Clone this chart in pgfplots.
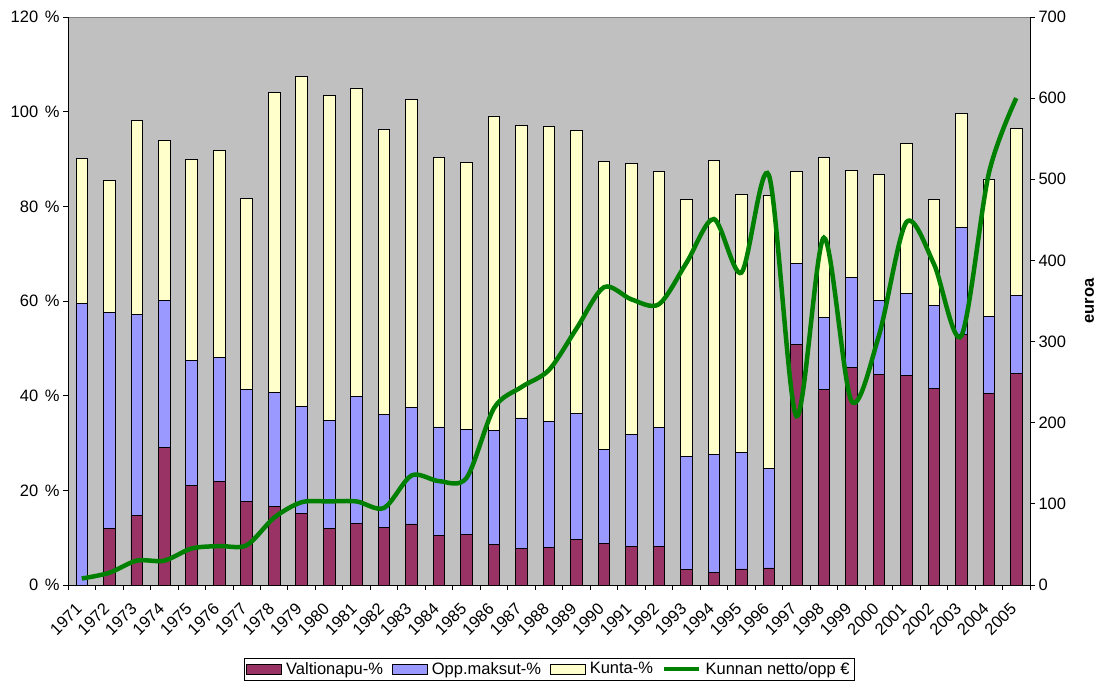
\documentclass[border=0pt]{standalone}
\usepackage{fontspec}
\setmainfont{Liberation Sans}
\usepackage{pgfplots}
\usepackage{pgfplotstable}
\pgfplotsset{compat=1.18}
\definecolor{valt}{RGB}{153,51,102}
\definecolor{opp}{RGB}{153,153,255}
\definecolor{kunta}{RGB}{255,255,204}
\definecolor{kline}{RGB}{0,128,0}
\definecolor{plotbg}{RGB}{192,192,192}
\definecolor{frame}{RGB}{128,128,128}

\pgfplotstableread{
x V O K E
0 0.0 59.4 30.8 8
1 11.9 45.7 27.8 15
2 14.6 42.5 41.1 30
3 29.0 31.2 33.7 30
4 21.1 26.3 42.5 45
5 21.8 26.2 43.8 48
6 17.7 23.6 40.3 49
7 16.5 24.1 63.4 83
8 15.1 22.7 69.6 102
9 11.9 22.9 68.7 103
10 13.0 26.8 65.2 103
11 12.1 23.9 60.3 95
12 12.9 24.6 65.0 135
13 10.4 23.0 56.9 128
14 10.7 22.2 56.3 132
15 8.5 24.1 66.5 218
16 7.7 27.6 61.7 244
17 7.9 26.6 62.4 265
18 9.7 26.6 59.7 316
19 8.8 19.8 60.8 367
20 8.1 23.7 57.3 352
21 8.1 25.1 54.1 346
22 3.3 23.8 54.3 397
23 2.6 25.0 62.1 451
24 3.4 24.6 54.6 385
25 3.6 21.1 57.6 505
26 50.8 17.2 19.3 208
27 41.4 15.1 33.9 428
28 46.0 19.0 22.5 227
29 44.5 15.6 26.6 307
30 44.3 17.2 31.8 447
31 41.5 17.6 22.4 396
32 52.9 22.7 24.1 307
33 40.5 16.2 29.0 507
34 44.7 16.5 35.2 600
}\data

\newcommand{\pc}[1]{#1\hspace{0.4em}\%}

\begin{document}
\begin{tikzpicture}
\path[use as bounding box] (0pt,0pt) rectangle (1102pt,682pt);
\begin{axis}[
  at={(68pt,97pt)}, anchor=south west,
  width=962pt, height=568pt, scale only axis,
  xmin=-0.5, xmax=34.5, ymin=0, ymax=120,
  ybar stacked, bar width=11.6pt,
  axis background/.style={fill=plotbg, draw=frame},
  axis x line*=bottom, axis y line*=left,
  axis line style={black, line width=0.8pt},
  every inner x axis line/.append style={-}, every inner y axis line/.append style={-},
  tick align=outside, major tick length=5pt,
  ytick={0,20,...,120},
  yticklabels={\pc{0},\pc{20},\pc{40},\pc{60},\pc{80},\pc{100},\pc{120}},
  xtick={-0.5,0.5,...,34.5},
  xticklabel=\empty,
  extra x ticks={0,1,...,34},
  extra x tick labels={1971,1972,1973,1974,1975,1976,1977,1978,1979,1980,1981,1982,1983,1984,1985,1986,1987,1988,1989,1990,1991,1992,1993,1994,1995,1996,1997,1998,1999,2000,2001,2002,2003,2004,2005},
  extra x tick style={major tick length=0pt, tick label style={xshift=-7pt, yshift=-12pt, rotate=45, anchor=north east}},
  tick style={black, line width=0.8pt},
  tick label style={font=\fontsize{16.5}{19}\selectfont},
  legend style={at={(0.5,-0.168)}, anchor=south, legend columns=-1, draw=black, fill=white,
    font=\fontsize{16.5}{19}\selectfont, inner sep=2.5pt,
    /tikz/every odd column/.append style={column sep=2pt},
    /tikz/every even column/.append style={column sep=7pt}},
  legend cell align=left,
]
\addplot[fill=valt, draw=black, line width=0.8pt, legend image code/.code={\draw[fill=valt,draw=black,line width=0.8pt] (0pt,-5pt) rectangle (35pt,5pt);}] table[x=x,y=V]{\data};
\addplot[fill=opp, draw=black, line width=0.8pt, legend image code/.code={\draw[fill=opp,draw=black,line width=0.8pt] (0pt,-5pt) rectangle (35pt,5pt);}] table[x=x,y=O]{\data};
\addplot[fill=kunta, draw=black, line width=0.8pt, legend image code/.code={\draw[fill=kunta,draw=black,line width=0.8pt] (0pt,-5pt) rectangle (35pt,5pt);}] table[x=x,y=K]{\data};
\addlegendimage{legend image code/.code={\draw[kline, line width=4.5pt] (0pt,0pt) -- (35pt,0pt);}}
\legend{Valtionapu-\%, Opp.maksut-\%, Kunta-\%, Kunnan netto/opp €}
\end{axis}
\begin{axis}[
  at={(68pt,97pt)}, anchor=south west,
  width=962pt, height=568pt, scale only axis,
  xmin=-0.5, xmax=34.5, ymin=0, ymax=700,
  axis x line=none, axis y line*=right,
  axis line style={black, line width=0.8pt},
  every inner y axis line/.append style={-},
  tick align=outside, major tick length=5pt,
  tick style={black, line width=0.8pt},
  ytick={0,100,...,700},
  yticklabels={0,100,200,300,400,500,600,700},
  tick label style={font=\fontsize{16.5}{19}\selectfont},
  ylabel={euroa},
  ylabel style={font=\bfseries\fontsize{16.5}{19}\selectfont, yshift=-12pt},
]
\addplot[kline, line width=4.5pt, smooth, tension=0.5] table[x=x,y=E]{\data};
\end{axis}
\end{tikzpicture}
\end{document}
